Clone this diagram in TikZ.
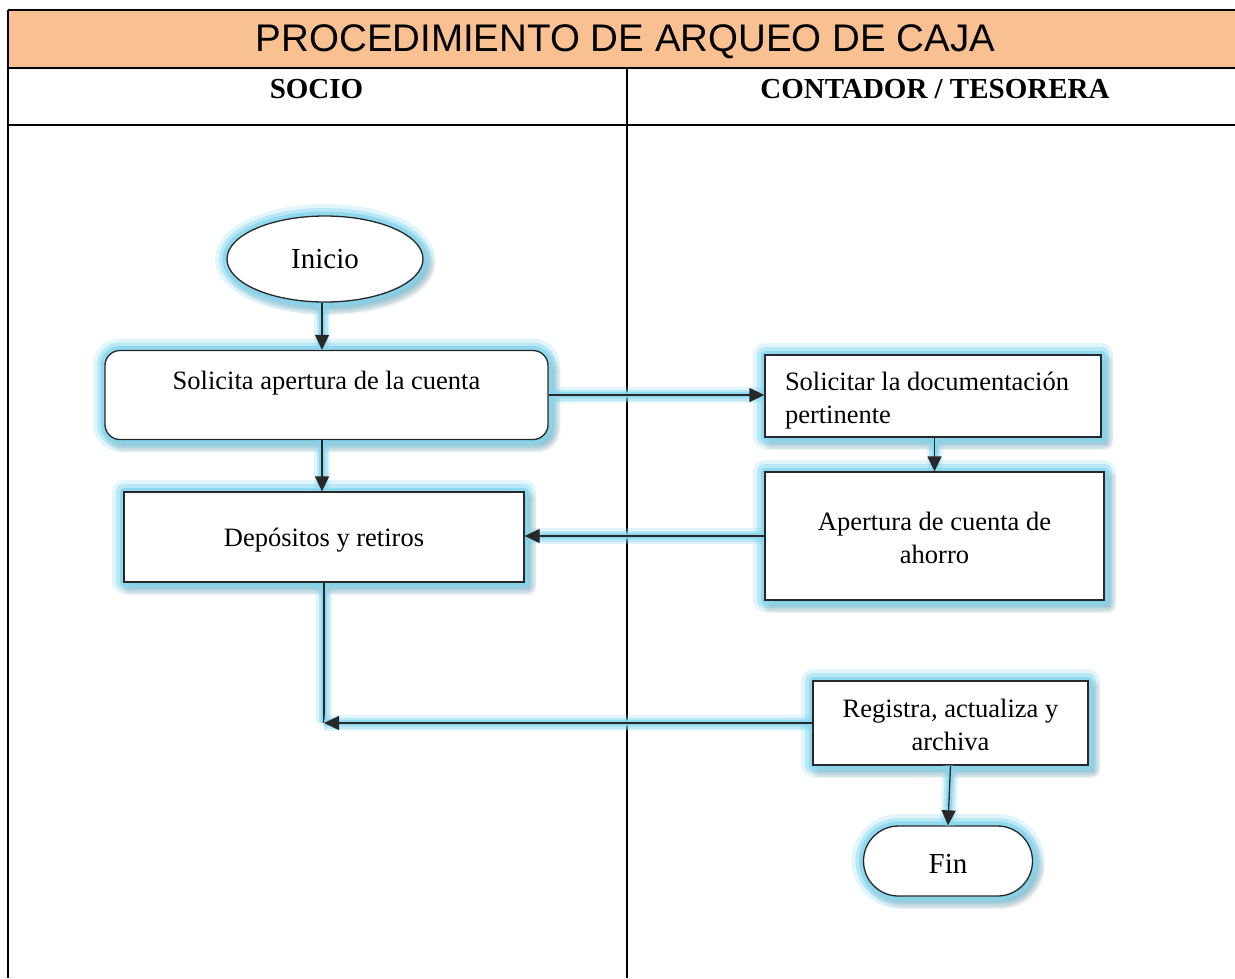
\documentclass[tikz,border=0pt]{standalone}
\usepackage{fontspec}
\setmainfont{Liberation Serif}
\newfontfamily\titlefont{Liberation Sans}
\usetikzlibrary{shapes.geometric,arrows.meta,shadows.blur}
\definecolor{hdrorange}{RGB}{249,193,146}
\definecolor{glowc}{RGB}{135,214,238}
\definecolor{linec}{RGB}{40,40,40}
\tikzset{
  tbl/.style={draw=black, line width=2pt},
  glowbox/.style={draw=linec, line width=1.3pt, fill=white, inner sep=0pt,
    blur shadow={shadow xshift=5pt, shadow yshift=-6pt, shadow blur steps=8, shadow opacity=50, shadow blur radius=8pt},
    preaction={draw=glowc, line width=24pt, draw opacity=0.25, line join=round},
    preaction={draw=glowc, line width=16pt, draw opacity=0.45, line join=round},
    preaction={draw=glowc, line width=9pt, draw opacity=0.8, line join=round},
    font=\fontsize{26.5}{33}\selectfont},
  procbox/.style={glowbox, rectangle, align=center},
  conn/.style={draw=linec, line width=1.3pt,
    preaction={draw=glowc, line width=16pt, draw opacity=0.25, arrows=-},
    preaction={draw=glowc, line width=11pt, draw opacity=0.45, arrows=-},
    preaction={draw=glowc, line width=6pt, draw opacity=0.8, arrows=-}},
  arr/.style={conn, -{Triangle[length=15pt,width=14pt]}},
}
\begin{document}
\begin{tikzpicture}[x=1pt,y=-1pt]
\useasboundingbox (0,0) rectangle (1235,978);
% table
\fill[hdrorange] (8,10) rectangle (1235,68);
\draw[tbl] (8,10) -- (1235,10);
\draw[tbl] (8,68) -- (1235,68);
\draw[tbl] (8,125) -- (1235,125);
\draw[tbl] (8,10) -- (8,978);
\draw[tbl] (627,68) -- (627,978);
\node[font=\titlefont\fontsize{38.5}{40}\selectfont, anchor=base] (title) at (625.5,51) {PROCEDIMIENTO DE ARQUEO DE CAJA};
\node[font=\bfseries\fontsize{29}{30}\selectfont, anchor=base] (socio) at (316.5,98) {SOCIO};
\node[font=\bfseries\fontsize{29}{30}\selectfont, anchor=base] (cont) at (935,98) {CONTADOR / TESORERA};
% nodes
\node[glowbox, ellipse, minimum width=196pt, minimum height=86pt, font=\fontsize{29}{33}\selectfont] (ini) at (325,259) {Inicio};
\node[procbox, rounded corners=15pt, minimum width=443pt, minimum height=89pt] (sol) at (326.5,395) {\rule{0pt}{22pt}Solicita apertura de la cuenta\\\mbox{}};
\node[procbox, minimum width=400pt, minimum height=90pt] (dep) at (324,537) {\rule{0pt}{24pt}Depósitos y retiros};
\node[procbox, align=flush left, text width=296pt, inner xsep=20pt, minimum height=82pt] (doc) at (933,396) {\rule{0pt}{28pt}Solicitar la documentación\\pertinente};
\node[procbox, minimum width=339pt, minimum height=128pt] (ap) at (934.5,536) {\rule{0pt}{22pt}Apertura de cuenta de\\ahorro};
\node[procbox, minimum width=275pt, minimum height=84pt] (reg) at (950.5,723) {\rule{0pt}{22pt}Registra, actualiza y\\archiva};
\node[glowbox, rectangle, rounded corners=35pt, minimum width=169pt, minimum height=70pt, font=\fontsize{29}{33}\selectfont] (fin) at (948,861) {\rule{0pt}{24pt}Fin};
\coordinate (joint) at (dep.south |- reg.west);
% connectors
\draw[arr] ([xshift=-3pt]ini.south) -- ([xshift=-3pt]ini.south |- sol.north);
\draw[arr] ([xshift=-2pt]dep.north |- sol.south) -- ([xshift=-2pt]dep.north);
\draw[arr] (sol.east) -- (sol.east -| doc.west);
\draw[arr] (doc.south -| ap.north) -- (ap.north);
\draw[arr] (ap.west) -- (ap.west -| dep.east);
\draw[conn] (dep.south) -- (joint);
\draw[arr] (reg.west) -- (joint);
\draw[arr] (reg.south) -- (fin.north);
\end{tikzpicture}
\end{document}
